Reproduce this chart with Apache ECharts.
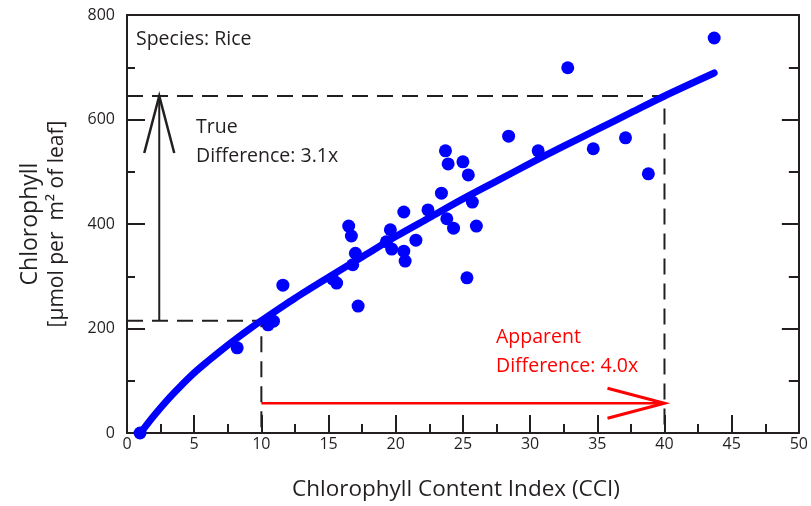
<!DOCTYPE html>
<html>
<head>
<meta charset="utf-8">
<script src="https://cdn.jsdelivr.net/npm/echarts@6/dist/echarts.min.js"></script>
<style>
html, body { margin: 0; padding: 0; background: #fff; }
#chart { width: 811px; height: 506px; }
</style>
</head>
<body>
<div id="chart"></div>
<script>
// rice leaves: meter reading (CCI) vs extracted chlorophyll
var cci = [0.97, 8.2, 10.5, 10.9, 11.6, 15.3, 15.6, 16.5, 16.7, 16.8, 17.0, 17.2,
  19.3, 19.6, 19.7, 20.6, 20.6, 20.7, 21.5, 22.4, 23.4, 23.7, 23.8, 23.9, 24.3,
  25.0, 25.3, 25.4, 25.7, 26.0, 28.4, 30.6, 32.8, 34.7, 37.1, 38.8, 43.7];
var chl = [0, 163, 207, 214, 283, 295, 287, 396, 377, 322, 344, 243,
  366, 389, 352, 423, 348, 329, 369, 427, 459, 540, 410, 515, 392,
  519, 297, 494, 442, 396, 568, 540, 699, 544, 565, 496, 756];

// calibration curve as drawn in the figure
var fitX = [1, 2, 3, 4, 5, 6, 7, 8, 9, 10, 12.5, 15, 17.5, 20, 22.5, 25, 27.5, 30, 32.5, 35, 37.5, 40, 43.7];
var fitY = [0, 33, 63, 90, 115, 137, 158, 178, 197, 215, 258, 298, 337, 376, 412, 448, 482, 516, 549, 581, 613, 645, 689];

// the two readings being compared
var lowCci = 10, highCci = 40;
var lowChl = 215, highChl = 645;
var trueArrowX = 2.4;
var apparentArrowY = 57;

var font = 'Open Sans';
var ink = '#231f20';

function zip(a, b) {
  var out = [];
  for (var i = 0; i < a.length; i++) out.push([a[i], b[i]]);
  return out;
}

// open "V" arrow head, like the drawing
function arrow(color, width) {
  return function (params, api) {
    var a = api.coord([api.value(0), api.value(1)]);
    var b = api.coord([api.value(2), api.value(3)]);
    var dx = b[0] - a[0], dy = b[1] - a[1];
    var len = Math.sqrt(dx * dx + dy * dy);
    var ux = dx / len, uy = dy / len;
    var hl = 57, hw = 15;
    var bx = b[0] - ux * hl, by = b[1] - uy * hl;
    var left = [bx - uy * hw, by + ux * hw];
    var right = [bx + uy * hw, by - ux * hw];
    return {
      type: 'group',
      children: [
        { type: 'line', shape: { x1: a[0], y1: a[1], x2: b[0], y2: b[1] }, style: { stroke: color, lineWidth: width } },
        { type: 'polyline', shape: { points: [left, b, right] }, style: { stroke: color, lineWidth: width + 0.5, fill: null } }
      ]
    };
  };
}

var chart = echarts.init(document.getElementById('chart'));

var tickStyle = { color: ink, width: 2 };
var dashed = { color: ink, width: 2, type: [16, 9] };
var noteFont = '19.5px "Open Sans"';

var option = {
  animation: false,
  grid: { left: 127, right: 12, top: 15, bottom: 73 },
  xAxis: [{
    type: 'value', min: 0, max: 50, interval: 5,
    axisLine: { lineStyle: { color: ink, width: 2 } },
    axisTick: { inside: true, length: 18, lineStyle: tickStyle },
    minorTick: { show: true, splitNumber: 2, length: 9, lineStyle: tickStyle },
    splitLine: { show: false },
    axisLabel: { margin: 3, fontSize: 16, color: ink, fontFamily: font },
    name: 'Chlorophyll Content Index (CCI)',
    nameLocation: 'middle', nameGap: 45,
    nameTextStyle: { fontSize: 22.5, color: ink, fontFamily: font, padding: [0, 14, 0, 0] }
  }, {
    type: 'value', min: 0, max: 50, interval: 5, position: 'top',
    axisLine: { show: true, onZero: false, lineStyle: { color: ink, width: 2 } },
    axisTick: { show: false }, axisLabel: { show: false }, splitLine: { show: false }
  }],
  yAxis: [{
    type: 'value', min: 0, max: 800, interval: 200,
    axisLine: { show: true, lineStyle: { color: ink, width: 2 } },
    axisTick: { inside: true, length: 18, lineStyle: tickStyle },
    minorTick: { show: true, splitNumber: 2, length: 8, lineStyle: tickStyle },
    splitLine: { show: false },
    axisLabel: { margin: 12, fontSize: 16, color: ink, fontFamily: font },
    name: '{a|Chlorophyll}\n{b|[µmol per  m² of leaf]}',
    nameLocation: 'middle', nameGap: 56,
    nameTextStyle: {
      color: ink, fontFamily: font,
      rich: {
        a: { fontSize: 23, lineHeight: 27, color: ink, fontFamily: font },
        b: { fontSize: 21, lineHeight: 27, color: ink, fontFamily: font }
      }
    }
  }, {
    type: 'value', min: 0, max: 800, interval: 200, position: 'right',
    axisLine: { show: true, onZero: false, lineStyle: { color: ink, width: 2 } },
    axisTick: { inside: true, length: 17, lineStyle: tickStyle },
    minorTick: { show: true, splitNumber: 2, length: 10, lineStyle: tickStyle },
    axisLabel: { show: false }, splitLine: { show: false }
  }],
  graphic: [
    { type: 'text', left: 136, top: 29, style: { text: 'Species: Rice', font: noteFont, fill: ink } },
    { type: 'text', left: 196, top: 113, style: { text: 'True\nDifference: 3.1x', font: noteFont, lineHeight: 29, fill: ink } },
    { type: 'text', left: 496, top: 323, style: { text: 'Apparent\nDifference: 4.0x', font: noteFont, lineHeight: 29, fill: '#ff0000' } }
  ],
  series: [{
    type: 'line', symbol: 'none', silent: true,
    lineStyle: dashed,
    data: [[0, highChl], [highCci, highChl], [highCci, 0]]
  }, {
    type: 'line', symbol: 'none', silent: true,
    lineStyle: dashed,
    data: [[0, lowChl], [lowCci, lowChl], [lowCci, 0]]
  }, {
    type: 'custom', silent: true,
    renderItem: arrow(ink, 2),
    data: [[trueArrowX, lowChl, trueArrowX, highChl]]
  }, {
    type: 'custom', silent: true,
    renderItem: arrow('#ff0000', 2.5),
    data: [[lowCci, apparentArrowY, highCci, apparentArrowY]]
  }, {
    type: 'scatter', symbolSize: 13,
    itemStyle: { color: '#0000ff', opacity: 1 },
    data: zip(cci, chl)
  }, {
    type: 'line', symbol: 'none', smooth: 0.3,
    lineStyle: { color: '#0000ff', width: 7, cap: 'round' },
    data: zip(fitX, fitY)
  }]
};

chart.setOption(option);
</script>
</body>
</html>
